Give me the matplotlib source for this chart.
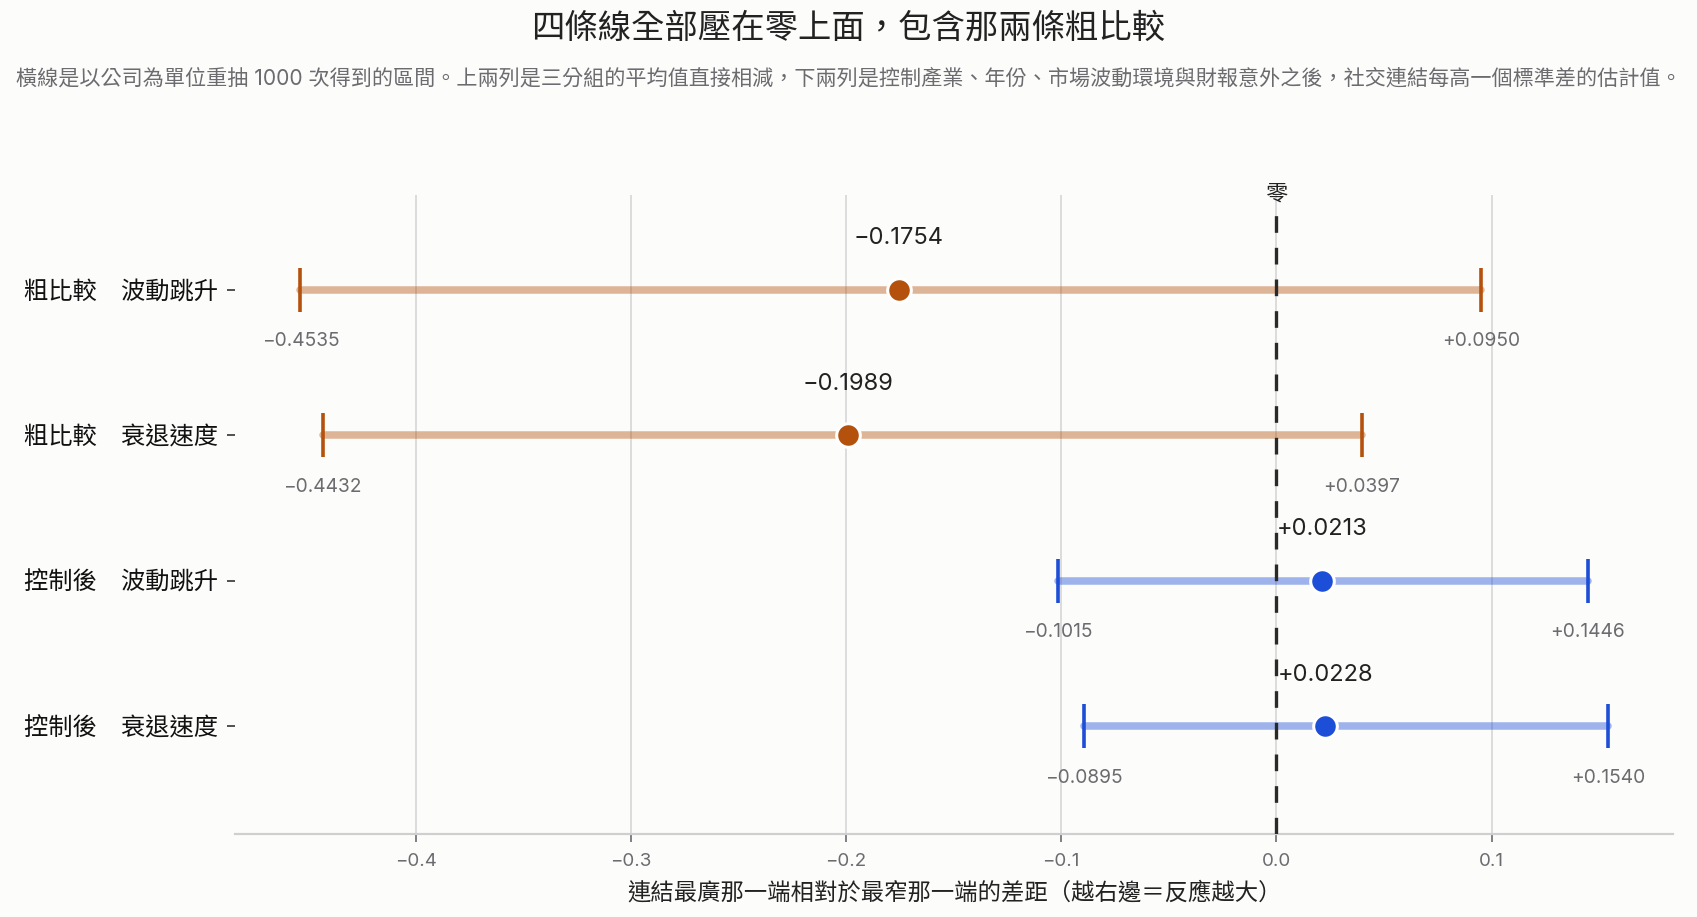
import numpy as np
import matplotlib
matplotlib.use("Agg")
import matplotlib.pyplot as plt
import matplotlib.transforms as mtransforms

plt.rcParams['font.family'] = ['Inter', 'Noto Sans CJK TC', 'DejaVu Sans']
plt.rcParams['axes.unicode_minus'] = True

# -----------------------
# Data
# -----------------------
row_labels = ["粗比較　波動跳升", "粗比較　衰退速度", "控制後　波動跳升", "控制後　衰退速度"]
estimates = [-0.1754, -0.1989, 0.0213, 0.0228]
ci_low = [-0.4535, -0.4432, -0.1015, -0.0895]
ci_high = [0.0950, 0.0397, 0.1446, 0.1540]
groups = ["raw", "raw", "ctrl", "ctrl"]

dark = {"raw": "#b4510c", "ctrl": "#1d4ed8"}
bg = "#fcfcfa"


def fmt(v):
    s = f"{abs(v):.4f}"
    return ("\u2212" if v < 0 else "+") + s


fig = plt.figure(figsize=(16.97, 9.17), dpi=100, facecolor=bg)
ax = fig.add_axes([0.1385, 0.0905, 0.8475, 0.6965])
ax.set_facecolor(bg)

ys = np.arange(len(row_labels))[::-1]

ax.grid(axis='x', color='#d6d6d6', lw=1.2, zorder=0)
ax.grid(axis='y', visible=False)

for y, e, lo, hi, g in zip(ys, estimates, ci_low, ci_high, groups):
    c = dark[g]
    ax.plot([lo, hi], [y, y], color=c, alpha=0.42, lw=5.4,
            solid_capstyle='round', zorder=2)
    ax.plot([lo, hi], [y, y], ls='none', marker='|', ms=31, mew=2.6,
            color=c, zorder=3)
    ax.plot([e], [y], ls='none', marker='o', ms=17, mfc=c, mec='white',
            mew=2.2, zorder=5)
    ax.annotate(fmt(e), (e, y), xytext=(0, 37), textcoords='offset points',
                ha='center', va='center', fontsize=17, color='#222222', zorder=6)
    for v in (lo, hi):
        ax.annotate(fmt(v), (v, y), xytext=(0, -37), textcoords='offset points',
                    ha='center', va='center', fontsize=13.8, color='#6b6b70')

# zero line
ax.axvline(0, ymin=0, ymax=0.978, color='#2a2a2a', lw=2.4,
           dashes=(5, 4.5), zorder=4)
trans = mtransforms.blended_transform_factory(ax.transData, ax.transAxes)
ax.text(0, 0.985, "零", transform=trans, ha='center', va='bottom',
        fontsize=16, color='#222222')

ax.set_ylim(-0.74, 3.65)
ax.set_xlim(-0.4839, 0.1844)
ax.set_yticks(ys)
ax.set_yticklabels(row_labels, fontsize=17.5, color='#111111')
ax.set_xticks([-0.4, -0.3, -0.2, -0.1, 0.0, 0.1])
ax.tick_params(axis='x', colors='#6b6b70', labelsize=13.5, length=6,
               width=1.2, pad=8)
ax.tick_params(axis='y', length=6, width=1.2, color='#333333', pad=6)

for side in ('left', 'top', 'right'):
    ax.spines[side].set_visible(False)
ax.spines['bottom'].set_color('#cfcfcf')
ax.spines['bottom'].set_linewidth(1.6)

ax.set_xlabel("連結最廣那一端相對於最窄那一端的差距（越右邊＝反應越大）",
              fontsize=16.8, color='#222222', labelpad=8)

fig.text(0.5, 0.968, "四條線全部壓在零上面，包含那兩條粗比較",
         ha='center', va='center', fontsize=24, color='#222222')
fig.text(0.5, 0.915,
         "橫線是以公司為單位重抽 1000 次得到的區間。上兩列是三分組的平均值直接相減，"
         "下兩列是控制產業、年份、市場波動環境與財報意外之後，社交連結每高一個標準差的估計值。",
         ha='center', va='center', fontsize=15.2, color='#6b6b70')

fig.savefig("out.png", dpi=100, facecolor=bg)
